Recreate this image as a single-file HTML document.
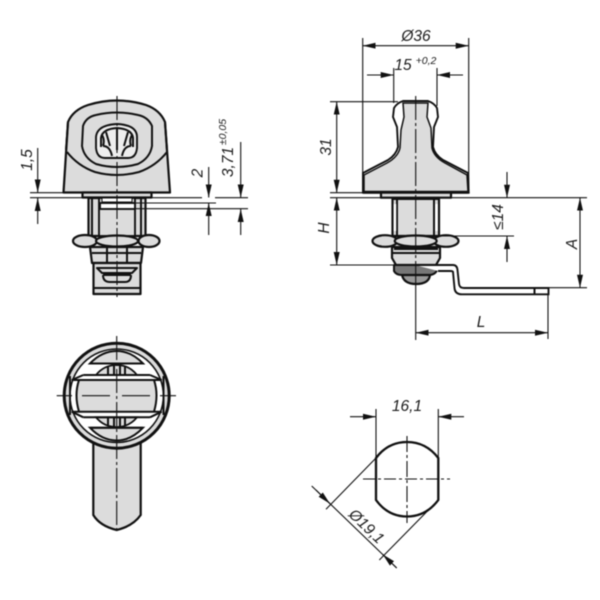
<!DOCTYPE html>
<html><head><meta charset="utf-8"><style>
html,body{margin:0;padding:0;background:#fff}
svg{display:block;filter:blur(.4px)}
text{font-family:"Liberation Sans",sans-serif;font-style:italic;font-size:15.500px;fill:#1c1c1c;text-anchor:middle}
.o{fill:#dcdcdc;stroke:#111;stroke-width:2.200;stroke-linejoin:round}
.n{fill:none;stroke:#111;stroke-width:2;stroke-linejoin:round}
.w{fill:#fff;stroke:#111;stroke-width:1.900}
.d{fill:none;stroke:#111;stroke-width:1.100}
.c{fill:none;stroke:#111;stroke-width:1.100;stroke-dasharray:24 3 3 3}
.a{marker-end:url(#m)}
.b{marker-start:url(#m);marker-end:url(#m)}
</style></head><body>
<svg width="600" height="600" viewBox="0 0 600 600" xmlns="http://www.w3.org/2000/svg">
<defs><marker id="m" markerUnits="userSpaceOnUse" markerWidth="14" markerHeight="7" refX="13" refY="3.500" orient="auto-start-reverse"><path d="M0 .5L13 3.500L0 6.500Z" fill="#111"/></marker></defs>

<!-- TOP LEFT VIEW -->
<path class="o" stroke-width="2.600" d="M63.500 192.500L68 122Q73 110 88 105Q117 96 146 105Q160 110 165 122L170 192.500Z"/>
<path class="n" stroke-width="3" d="M68 122L66 150M165 122L167 150"/>
<path class="n" d="M67 152Q78 166 95 172Q117 178 139 172Q156 166 167 152"/>
<path class="n" d="M83 126Q86 117 96 115Q117 110 138 115Q148 117 152 126V146Q150 158 138 164Q117 170 96 164Q84 158 82 146Z"/>
<path class="w" style="fill:#eee" d="M96 148V137Q97 125 117 124Q137 125 137 137V148Q136 158 128 158H105Q97 158 96 148Z"/>
<path class="n" d="M101 147V138Q102 129 117 128Q132 129 133 138V147"/>
<path class="n" d="M103 146Q105 140 102 135M110 146L106 132M117 150V129M124 146L128 132M131 146Q129 140 132 135M103 146Q110 146 112 156M131 146Q124 146 122 156"/>
<rect class="o" x="82.500" y="192.500" width="69" height="5"/>
<rect class="o" x="88.500" y="198" width="57" height="38"/>
<rect class="w" x="99" y="198" width="36" height="38" style="fill:#dcdcdc"/>
<path class="n" d="M92 198V236M141 198V236"/>
<rect class="w" x="100" y="203" width="35" height="6"/>
<rect class="w" x="102" y="198" width="30" height="4" style="stroke-width:1"/>
<ellipse class="o" cx="85" cy="241" rx="12" ry="6"/><ellipse class="o" cx="149" cy="241" rx="10.500" ry="6"/><ellipse class="o" cx="117" cy="241" rx="21" ry="5.500"/>
<path class="o" d="M90 247H143L141 263H92Z"/>
<path class="n" d="M107 247V263M127 247V263M92 253H141"/>
<rect class="o" x="93.500" y="263" width="47" height="31"/>
<path class="n" d="M97 268H137L132 273H102ZM103 275H131M103 275Q103 282 110 282H125Q131 282 131 275M93.500 288H140.500"/>
<path class="d" stroke-width="1.300" d="M30 192.700H64M30 197.700H202M215 197.700H248M134 203H216M134 208.700H248"/>
<path class="c" d="M117 96V297"/>
<path class="d a" d="M37.700 148V192.500"/><path class="d a" d="M37.700 224V198"/>
<path class="d a" d="M208.700 167V197.500"/><path class="d a" d="M208.700 235V203"/>
<path class="d a" d="M240.700 142V197.500"/><path class="d a" d="M240.700 235V209"/>
<text transform="translate(32 160) rotate(-90)">1,5</text>
<text transform="translate(202.500 173) rotate(-90)">2</text>
<text transform="translate(233 162) rotate(-90)">3,71</text>
<text style="font-size:10.500px" transform="translate(226 132) rotate(-90)">±0,05</text>

<!-- TOP RIGHT VIEW -->
<path class="w" stroke-width="2.200" d="M363 192.700V173L388 160Q396 155 398 147L397 127L393 117L394 108Q397 103 403 101H428Q434 103 437 108L438 117L434 127L433 147Q435 155 443 160L468 173L468.700 192.700Z"/>
<path fill="#dcdcdc" stroke="#111" stroke-width="1.500" d="M364 175L387 163Q398 157 400 148L401 130L404 117L403 103H428L427 117L431 128L432 148Q434 157 445 163L467 175L468 191.500H364Z"/>
<path class="n" stroke-width="2.400" d="M363 192.700H468.700"/>
<rect class="o" x="381" y="192.700" width="70" height="5"/>
<path class="o" d="M392.500 198H439V236H392.500Z"/>
<path class="n" d="M397 198V236M434 198V236M392 199H439"/>
<rect x="393.700" y="204" width="2.500" height="27" fill="#fff"/><rect x="435.200" y="204" width="2.500" height="27" fill="#fff"/>
<ellipse class="o" cx="385" cy="241" rx="12.500" ry="5.800"/><ellipse class="o" cx="446" cy="241" rx="12.500" ry="5.800"/><ellipse class="o" cx="415.700" cy="241" rx="21" ry="5.500"/>
<path class="o" d="M392 247H440V258L436 265H396L392 258Z"/>
<path class="n" d="M394 249H438M392 253H440"/>
<path class="n" stroke-width="2.800" style="fill:#777" d="M394 265V271Q396 275 402 275H430Q438 274 438 265Z"/>
<path class="o" style="fill:#999" d="M402 275Q404 284 416 284Q429 284 430 275Z"/>
<path class="w" d="M415 265H453Q457 265 457.500 270L459 284Q459.500 288 464 288H548.500V294.300H462Q455 294.300 454.500 288L453 272Q453 271 450 271H438"/>
<path class="n" stroke-width="1.400" d="M534.500 288V294.300"/>
<path class="c" d="M415.700 96V274"/><path class="d" d="M415.700 274V340"/>
<path class="d" d="M362.700 38V192M468.700 38V192M393.700 68V103M437 68V106M330 101.700H398M330 192.700H364M330 197.700H382M450 197.700H587M330 265H393M432 236H514M535 287.700H587M548 295V339"/>
<path class="d b" d="M362.700 45.700H468.700"/>
<path class="d a" d="M367 75H393.700"/><path class="d a" d="M463 75H437"/>
<path class="d b" d="M336.700 101.700V192.700"/><path class="d b" d="M336.700 197.700V265"/>
<path class="d b" d="M580 197.700V287.700"/><path class="d b" d="M415.700 332.700H548"/>
<path class="d a" d="M507 172V197.700"/><path class="d a" d="M507 262V236"/>
<text x="416" y="41">Ø36</text>
<text x="403" y="70">15</text><text x="426" y="64" style="font-size:10.500px">+0,2</text>
<text transform="translate(331 147) rotate(-90)">31</text>
<text transform="translate(329 228) rotate(-90)">H</text>
<text transform="translate(503 217) rotate(-90)">≤14</text>
<text transform="translate(577 244) rotate(-90)">A</text>
<text x="481" y="327">L</text>

<!-- BOTTOM LEFT VIEW -->
<path class="o" d="M93.300 440V515Q100 526 116.700 530Q133 526 140.700 515V440Z"/>
<circle cx="116.700" cy="395.700" r="52.500" fill="#dcdcdc" stroke="#111" stroke-width="3"/>
<circle cx="116.700" cy="395.700" r="46.700" fill="#fff" stroke="#111" stroke-width="1.600"/>
<path fill="#dcdcdc" stroke="#111" stroke-width="2" d="M90 363.500Q102 351 116.700 351Q131 351 143 363.500Z"/>
<path fill="#dcdcdc" stroke="#111" stroke-width="2" d="M90 427.700Q102 440.500 116.700 440.500Q131 440.500 143 427.700Z"/>
<path fill="#dcdcdc" stroke="#111" stroke-width="1.800" d="M96 375Q104 365 116.700 365Q129 365 137 375Z"/>
<path fill="#dcdcdc" stroke="#111" stroke-width="1.800" d="M96 417.300Q104 427 116.700 427Q129 427 137 417.300Z"/>
<path class="n" d="M108 366V375M114 366V375M120 366V375M125 366V375M108 417V426M114 417V426M120 417V426M125 417V426"/>
<path fill="#dcdcdc" stroke="none" d="M78 380H155Q159 395 155 411.700H78Q74 395 78 380Z"/>
<path class="n" stroke-width="2.200" d="M71.700 380H161.700M71.700 411.700H161.700"/>
<path class="n" stroke-width="1.800" d="M83.300 375H150M83.300 417.300H150M90 363.500H143M90 427.700H143"/>
<path class="n" stroke-width="1.800" d="M71.700 380L83.300 375M161.700 380L150 375M71.700 411.700L83.300 417.300M161.700 411.700L150 417.300"/>
<path class="n" stroke-width="1.800" d="M79 380Q74 395 79 411.700M154 380Q159 395 154 411.700M70 376V415M163.500 376V415"/>
<path class="c" stroke-width="1.200" d="M116.700 336V532"/>
<path class="d" stroke-width="1.300" d="M56.700 395.700H72M82 395.700H110M122 395.700H150M160 395.700H176"/>

<!-- BOTTOM RIGHT VIEW -->
<path fill="#fff" stroke="#111" stroke-width="2.300" d="M376 458Q388 442 407 442Q426 442 438.300 458V500Q426 516.500 407 516.500Q388 516.500 376 500Z"/>
<path class="d" d="M376 409V458M438.300 409V458M376 458L326 509.300M438.300 500L379.300 560M311.700 486L396.700 568"/>
<path class="d" stroke-dasharray="16 3 3 3" d="M407 436V523"/>
<path class="d" stroke-dasharray="12 3 3 3" d="M363 479H450"/>
<path class="d a" d="M350 416.700H376"/><path class="d a" d="M464 416.700H438.300"/>
<path class="d a" d="M316 490L330 503.700"/><path class="d a" d="M396.700 568L382.700 554.400"/>
<text x="407" y="411">16,1</text>
<text transform="translate(363 530) rotate(44)">Ø19,1</text>
</svg>
</body></html>
